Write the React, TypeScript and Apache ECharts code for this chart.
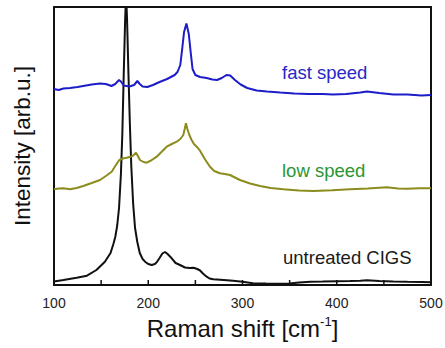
import React, { useEffect, useRef } from "react";
import * as echarts from "echarts";

// Raman shift (cm^-1) / intensity (arb. units, offset traces)
const untreatedX = [100, 110, 124, 135, 145, 154, 160, 163, 165, 167, 169, 171, 172.5, 174, 175.5, 176.5, 177.5, 179, 180.5, 182, 184, 186, 188.4, 191, 194, 196.6, 200, 203.7, 207, 209, 212, 215, 217.8, 220.5, 224.9, 229, 233.7, 239, 244, 248, 252, 255, 258, 262, 265, 269, 280, 290, 300, 311, 325, 340, 350, 360, 372, 385, 400, 414, 425, 432, 445, 460, 475, 490, 500];
const untreatedY = [2.5, 4, 6.3, 8.3, 14, 22.3, 31, 40, 47, 58, 76, 110, 150, 210, 265, 290, 265, 210, 160, 118, 80, 56, 42, 31, 25, 22.3, 20, 19, 20, 21.7, 26, 30.5, 32, 30, 25.7, 21, 19, 16.5, 16, 16.3, 15, 13.5, 10.5, 7.3, 5.5, 4.7, 4, 3.3, 2.2, 0.8, 0.5, 0.3, 0.4, 1.5, 2.3, 2.5, 2.8, 3, 3.3, 3.8, 3, 2.5, 2.2, 2, 1.8];

const lowX = [100, 105, 110, 117, 124, 131, 140, 148.8, 155, 161.2, 165, 169.3, 173, 177.1, 183.5, 187, 189, 191.2, 195, 198.4, 203, 209, 214, 219.6, 225, 230.2, 234, 237.2, 238.7, 240, 241.5, 243.6, 246, 248.5, 251.4, 254.9, 260, 265.5, 270, 276, 281, 286.7, 292, 297.3, 308, 318.6, 330, 343.3, 360, 375.1, 395, 414, 433, 453, 465, 474.2, 488, 500];
const lowY = [94.7, 95.5, 95.7, 94.7, 96, 98, 101, 104, 108, 112.3, 118, 124, 125.5, 126.3, 128, 131.3, 128, 124, 122, 121.3, 123.5, 127.3, 132, 137.3, 140, 142.3, 145, 149, 155, 160.7, 155, 149, 144, 140, 137.3, 133.3, 125, 117.3, 113, 110.7, 110, 109, 106.5, 104, 100.5, 98, 96, 94.7, 93.5, 93, 93.8, 94.7, 95.5, 96.7, 95.5, 95.3, 95.8, 95.7];

const fastX = [100, 105, 110, 117, 125, 131, 140, 148.8, 155, 161, 165, 169, 171, 174, 180, 185, 188.4, 191, 194, 199, 205, 212, 220, 228, 231, 234, 236, 238, 240.5, 243, 245, 247, 250, 255, 262, 268, 273, 278, 283, 287, 292, 298, 305, 315, 326, 340, 355, 370, 385, 396, 410, 425, 432, 445, 460, 475, 490, 500];
const fastY = [195, 194, 195.5, 196, 197, 198, 199.5, 200.5, 200, 198, 200, 204, 202.5, 198.5, 197.5, 199, 203, 200, 197.5, 197, 199, 202, 205, 209, 212, 219, 235, 252, 260.5, 250, 232, 215, 209, 207, 206, 204.5, 204, 206, 209, 208.5, 204, 199.5, 196, 193.5, 192.5, 191.5, 190.5, 190, 190, 189.5, 190, 191.5, 192.5, 191, 189.5, 189.5, 188.5, 189];

const xTicks = { min: 100, max: 500, interval: 100 };
const yRange = { min: -1, max: 277 };
// major (100 step) and minor (50 step) tick positions along the x axis
const tickValues = [150, 200, 250, 300, 350, 400, 450];

const labels = [
  { text: "fast speed", color: "#2828c8" },
  { text: "low speed", color: "#2a9632" },
  { text: "untreated CIGS", color: "#1a1a1a" },
];

const zip = (xs: number[], ys: number[]) => xs.map((x, i) => [x, ys[i]]);

export default function App() {
  const ref = useRef<HTMLDivElement>(null);
  useEffect(() => {
    if (!ref.current) return;
    const chart = echarts.init(ref.current, undefined, { renderer: "svg" });
    const font = "Liberation Sans, Arial, sans-serif";
    const frameLine = { show: true, onZero: false, lineStyle: { color: "#111", width: 2 } };
    chart.setOption({
      animation: false,
      backgroundColor: "#fff",
      grid: {
        left: 54,
        right: 14,
        top: 7,
        bottom: 63,
        show: false,
        containLabel: false,
        outerBoundsMode: "none",
      },
      xAxis: [
        {
          type: "value",
          position: "bottom",
          min: xTicks.min,
          max: xTicks.max,
          interval: xTicks.interval,
          axisLine: frameLine,
          axisTick: { show: false },
          splitLine: { show: false },
          axisLabel: { show: true, fontSize: 14, color: "#222", margin: 11, fontFamily: font },
          name: "{a|Raman shift [cm}{b|-1}{a|]}",
          nameLocation: "middle",
          nameGap: 30,
          nameTextStyle: {
            rich: {
              a: { fontSize: 24, color: "#111", fontFamily: font, lineHeight: 26 },
              b: { fontSize: 13, color: "#111", fontFamily: font, verticalAlign: "top", lineHeight: 26 },
            },
          },
        },
        {
          type: "value",
          position: "top",
          min: xTicks.min,
          max: xTicks.max,
          interval: xTicks.interval,
          axisLine: frameLine,
          axisTick: { show: false },
          axisLabel: { show: false },
          splitLine: { show: false },
        },
      ],
      yAxis: [
        {
          type: "value",
          position: "left",
          min: yRange.min,
          max: yRange.max,
          axisLine: frameLine,
          axisTick: { show: false },
          axisLabel: { show: false },
          splitLine: { show: false },
          name: "Intensity [arb.u.]",
          nameLocation: "middle",
          nameRotate: 90,
          nameGap: 20,
          nameTextStyle: { fontSize: 22.5, color: "#111", fontFamily: font },
        },
        {
          type: "value",
          position: "right",
          min: yRange.min,
          max: yRange.max,
          axisLine: frameLine,
          axisTick: { show: false },
          axisLabel: { show: false },
          splitLine: { show: false },
        },
      ],
      series: [
        {
          type: "line",
          data: zip(untreatedX, untreatedY),
          showSymbol: false,
          clip: true,
          lineStyle: { color: "#111", width: 2 },
        },
        {
          type: "line",
          data: zip(lowX, lowY),
          showSymbol: false,
          clip: true,
          lineStyle: { color: "#8c8c1e", width: 2 },
        },
        {
          type: "line",
          data: zip(fastX, fastY),
          showSymbol: false,
          clip: true,
          lineStyle: { color: "#1c1cc8", width: 2 },
        },
        {
          type: "custom",
          clip: false,
          silent: true,
          data: tickValues.map((v) => [v, yRange.min]),
          renderItem: (params: any, api: any) => {
            const p = api.coord([api.value(0), api.value(1)]);
            return {
              type: "line",
              shape: { x1: p[0], y1: p[1], x2: p[0], y2: p[1] - 5 },
              style: { stroke: "#111", lineWidth: 1.5 },
            };
          },
        },
      ],
      graphic: [
        { type: "text", x: 282, y: 72, style: { text: labels[0].text, fill: labels[0].color, font: `18.5px ${font}`, verticalAlign: "middle" } },
        { type: "text", x: 282, y: 170, style: { text: labels[1].text, fill: labels[1].color, font: `18.5px ${font}`, verticalAlign: "middle" } },
        { type: "text", x: 283, y: 257, style: { text: labels[2].text, fill: labels[2].color, font: `18.5px ${font}`, verticalAlign: "middle" } },
      ],
    });
    return () => chart.dispose();
  }, []);
  return <div ref={ref} style={{ width: 445, height: 348, position: "absolute", left: 0, top: 0 }} />;
}
